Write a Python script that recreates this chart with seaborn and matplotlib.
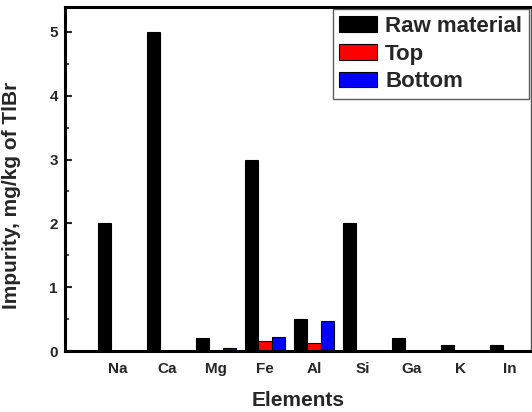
import matplotlib
matplotlib.use("Agg")
import matplotlib.pyplot as plt
from matplotlib.ticker import MultipleLocator
import pandas as pd
import seaborn as sns

elements = ["Na", "Ca", "Mg", "Fe", "Al", "Si", "Ga", "K", "In"]
raw_material = [2.0, 5.0, 0.2, 3.0, 0.5, 2.0, 0.2, 0.1, 0.1]
top = [0.0, 0.0, 0.0, 0.15, 0.12, 0.0, 0.0, 0.0, 0.0]
bottom = [0.0, 0.0, 0.05, 0.22, 0.47, 0.0, 0.0, 0.0, 0.0]
series_names = ["Raw material", "Top", "Bottom"]
series_colors = ["black", "red", "blue"]

df = pd.DataFrame({
    "Element": elements * 3,
    "Impurity": raw_material + top + bottom,
    "Sample": [s for s in series_names for _ in elements],
})

sns.set_theme(style="white")
plt.rcParams["font.family"] = ["Liberation Sans", "DejaVu Sans"]
plt.rcParams["font.weight"] = "bold"

fig = plt.figure(figsize=(5.32, 4.12), dpi=100)
ax = fig.add_axes([0.122, 0.148, 0.876, 0.835])

sns.barplot(data=df, x="Element", y="Impurity", hue="Sample",
            order=elements, hue_order=series_names,
            palette=series_colors, saturation=1, width=0.82,
            edgecolor="black", linewidth=0.8, ax=ax)

ax.set_xlim(-1.08, 8.43)
ax.set_ylim(0, 5.39)
ax.yaxis.set_major_locator(MultipleLocator(1))
ax.yaxis.set_minor_locator(MultipleLocator(0.5))
ax.tick_params(axis="y", which="major", direction="in", length=5, width=1.5,
               left=True, labelsize=11, pad=5)
ax.tick_params(axis="y", which="minor", direction="in", length=3, width=1.2,
               left=True)
ax.tick_params(axis="x", length=0, labelsize=11, pad=8)
for lab in ax.get_xticklabels() + ax.get_yticklabels():
    lab.set_fontweight("bold")

for side in ["left", "bottom", "top", "right"]:
    ax.spines[side].set_visible(True)
    ax.spines[side].set_color("black")
    ax.spines[side].set_linewidth(2.2)
ax.spines["right"].set_linewidth(1.0)
ax.spines["right"].set_color("#555555")

ax.set_xlabel("Elements", fontsize=15, fontweight="bold", labelpad=11)
ax.set_ylabel("Impurity, mg/kg of TlBr", fontsize=15, fontweight="bold")
ax.yaxis.set_label_coords(-0.094, 0.453)

leg = ax.legend(loc="upper right", frameon=True, fancybox=False,
                handlelength=1.7, handleheight=0.7, handletextpad=0.35,
                labelspacing=0.3, borderpad=0.3, borderaxespad=0.1,
                prop={"weight": "bold", "size": 16})
leg.get_frame().set_edgecolor("#333333")
leg.get_frame().set_linewidth(1.0)
for h in leg.legend_handles:
    h.set_edgecolor("black")
    h.set_linewidth(0.8)

fig.savefig("out.png", dpi=100)
